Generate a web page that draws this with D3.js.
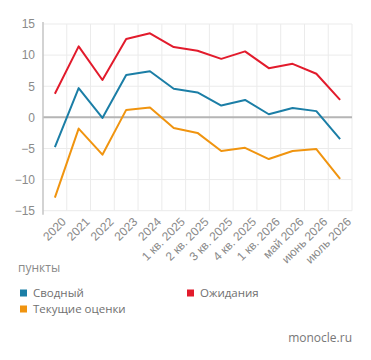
<!DOCTYPE html>
<html>
<head>
<meta charset="utf-8">
<script src="https://cdn.jsdelivr.net/npm/d3@7"></script>
<style>
  body { margin: 0; background: #fff; }
  svg { font-family: "Open Sans", "Noto Sans", sans-serif; }
</style>
</head>
<body>
<div id="main"></div>
<script>
(function(){

  const categories = ["2020", "2021", "2022", "2023", "2024", "1 кв. 2025", "2 кв. 2025", "3 кв. 2025",
    "4 кв. 2025", "1 кв. 2026", "май 2026", "июнь 2026", "июль 2026"]
  const svodny = [-4.8, 4.7, -0.1, 6.8, 7.4, 4.6, 4.0, 1.9, 2.8, 0.5, 1.5, 1.0, -3.5]
  const tekushie = [-12.9, -1.8, -6.0, 1.2, 1.6, -1.7, -2.5, -5.4, -4.9, -6.7, -5.4, -5.1, -9.9]
  const ozhidaniya = [3.8, 11.4, 6.0, 12.6, 13.5, 11.3, 10.7, 9.4, 10.6, 7.9, 8.6, 7.0, 2.8]
  const yTicks = [-15, -10, -5, 0, 5, 10, 15]

  const series = [
    { name: "Сводный", values: svodny, color: "#1b7ea6" },
    { name: "Ожидания", values: ozhidaniya, color: "#e21b2c" },
    { name: "Текущие оценки", values: tekushie, color: "#f0940f" }
  ]

  const width = 371
  const height = 360
  const margin = { top: 24, right: 19, bottom: 149, left: 43 }

  const svg = d3.select("#main").append("svg")
    .attr("width", width)
    .attr("height", height)

  const xScale = d3.scaleBand()
    .domain(categories)
    .range([margin.left, width - margin.right])

  const yScale = d3.scaleLinear()
    .domain([-15, 15])
    .range([height - margin.bottom - 0.3, margin.top])

  // grid
  svg.append("g")
    .selectAll("line")
    .data(categories.slice(1).concat(["end"]))
    .join("line")
      .attr("x1", (d, i) => margin.left + xScale.step() * (i + 1))
      .attr("x2", (d, i) => margin.left + xScale.step() * (i + 1))
      .attr("y1", margin.top)
      .attr("y2", yScale(-15))
      .attr("stroke", "#ebebeb")
      .attr("stroke-width", 1)

  svg.append("g")
    .selectAll("line")
    .data(yTicks)
    .join("line")
      .attr("x1", margin.left)
      .attr("x2", width - margin.right)
      .attr("y1", d => yScale(d))
      .attr("y2", d => yScale(d))
      .attr("stroke", d => d === 0 ? "#b5b5b5" : "#ebebeb")
      .attr("stroke-width", d => d === 0 ? 2 : 1)

  const yAxis = d3.axisLeft(yScale)
    .tickValues(yTicks)
    .tickSize(0)
    .tickPadding(8)

  const gy = svg.append("g")
    .attr("transform", `translate(${margin.left},0)`)
    .call(yAxis)
  gy.select(".domain").remove()
  gy.selectAll("text")
    .attr("fill", "#8a8a8a")
    .attr("font-size", 12)

  svg.append("line")
    .attr("x1", margin.left).attr("x2", margin.left)
    .attr("y1", margin.top - 2).attr("y2", yScale(-15) + 4)
    .attr("stroke", "#c4c4c4")
    .attr("stroke-width", 1.5)

  const xAxis = d3.axisBottom(xScale)
    .tickSize(0)
    .tickPadding(0)

  const gx = svg.append("g")
    .attr("transform", `translate(0,${yScale(-15) + 6})`)
    .call(xAxis)
  gx.select(".domain").remove()
  gx.selectAll("text")
    .attr("fill", "#8a8a8a")
    .attr("font-size", 12)
    .attr("text-anchor", "end")
    .attr("dy", "0.7em")
    .attr("transform", "translate(6,0) rotate(-45)")

  const line = d3.line()
    .x((d, i) => xScale(categories[i]) + xScale.bandwidth() / 2)
    .y(d => yScale(d))

  svg.append("g")
    .selectAll("path")
    .data(series)
    .join("path")
      .attr("fill", "none")
      .attr("stroke", d => d.color)
      .attr("stroke-width", 2)
      .attr("stroke-linejoin", "round")
      .attr("d", d => line(d.values))

  svg.append("text")
    .attr("x", 18)
    .attr("y", 272)
    .attr("fill", "#8a8a8a")
    .attr("font-size", 12)
    .text("пункты")

  const legendPos = [[20, 293], [187, 293], [20, 309]]
  const legend = svg.append("g")
    .selectAll("g")
    .data(series)
    .join("g")
      .attr("transform", (d, i) => `translate(${legendPos[i][0]},${legendPos[i][1]})`)
  legend.append("rect")
    .attr("x", 0).attr("y", -3.5)
    .attr("width", 7).attr("height", 7)
    .attr("fill", d => d.color)
  legend.append("text")
    .attr("x", 13).attr("y", 0)
    .attr("dy", "0.35em")
    .attr("fill", "#707070")
    .attr("font-size", 11.5)
    .text(d => d.name)

  svg.append("text")
    .attr("x", 352)
    .attr("y", 342)
    .attr("text-anchor", "end")
    .attr("fill", "#777")
    .attr("font-size", 12)
    .text("monocle.ru")
}())
</script>
</body>
</html>
